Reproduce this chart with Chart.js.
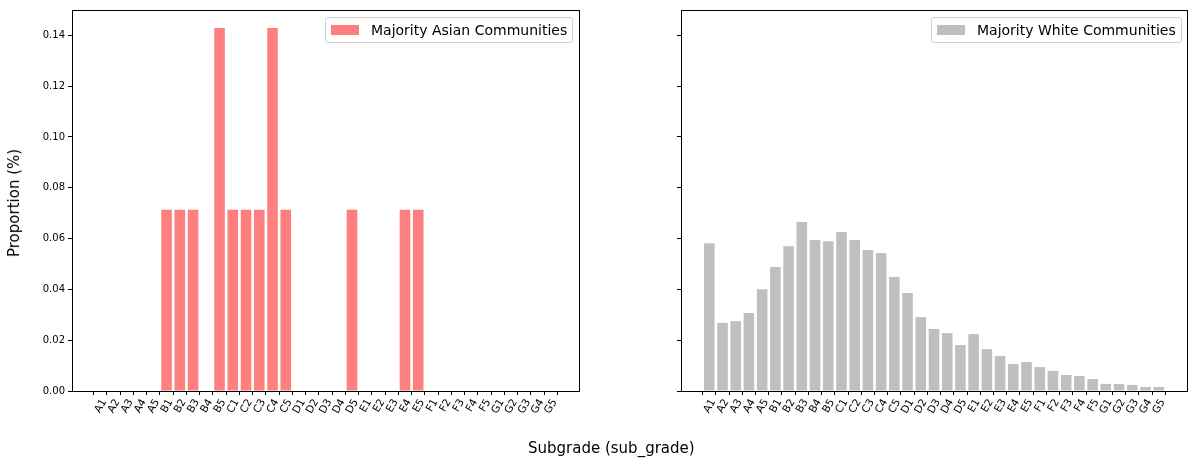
<!DOCTYPE html>
<html>
<head>
<meta charset="utf-8">
<script src="https://cdn.jsdelivr.net/npm/chart.js@4.4.0/dist/chart.umd.min.js"></script>
<style>
  body { margin: 0; background: #fff; font-family: 'DejaVu Sans', sans-serif; }
  #wrap { position: relative; width: 1198px; height: 465px; }
  canvas { position: absolute; top: 0; }
  .legend { position: absolute; top: 17px; height: 24px; border: 1px solid #d0d0d0; border-radius: 3px;
            background: rgba(255,255,255,0.8); display: flex; align-items: center; font-size: 14px; color: #000;
            white-space: nowrap; box-sizing: content-box; }
  .legend .patch { width: 28px; height: 10px; margin: 0 12px 0 5px; flex: none; }
  .lbl { position: absolute; font-size: 15px; color: #000; white-space: nowrap; }
</style>
</head>
<body>
<div id="wrap">
  <canvas id="left" width="600" height="465" style="left:0"></canvas>
  <canvas id="right" width="598" height="465" style="left:600px"></canvas>
  <div class="legend" style="left:325px;width:246px"><div class="patch" style="background:rgba(255,0,0,0.5)"></div>Majority Asian Communities</div>
  <div class="legend" style="left:931px;width:249px"><div class="patch" style="background:rgba(128,128,128,0.5)"></div>Majority White Communities</div>
  <div class="lbl" style="left:14px;top:203px;transform:translate(-50%,-50%) rotate(-90deg)">Proportion (%)</div>
  <div class="lbl" style="left:528px;top:439px">Subgrade (sub_grade)</div>
</div>
<script>
var subgrades = ['A1','A2','A3','A4','A5','B1','B2','B3','B4','B5','C1','C2','C3','C4','C5',
                 'D1','D2','D3','D4','D5','E1','E2','E3','E4','E5','F1','F2','F3','F4','F5',
                 'G1','G2','G3','G4','G5'];
var asianValues = [0, 0, 0, 0, 0, 0.0714, 0.0714, 0.0714, 0, 0.1429, 0.0714, 0.0714, 0.0714, 0.1429, 0.0714,
                   0, 0, 0, 0, 0.0714, 0, 0, 0, 0.0714, 0.0714, 0, 0, 0, 0, 0,
                   0, 0, 0, 0, 0];
var whiteValues = [0.0582, 0.0268, 0.0275, 0.0307, 0.0401, 0.0488, 0.0570, 0.0665, 0.0594, 0.0590,
                   0.0626, 0.0594, 0.0555, 0.0543, 0.0449, 0.0386, 0.0291, 0.0244, 0.0228, 0.0181,
                   0.0224, 0.0165, 0.0138, 0.0106, 0.0114, 0.0094, 0.0079, 0.0063, 0.0059, 0.0047,
                   0.0028, 0.0028, 0.0024, 0.0016, 0.0016];
var yTicks = [0, 0.02, 0.04, 0.06, 0.08, 0.10, 0.12, 0.14];

Chart.defaults.font.family = 'DejaVu Sans';
Chart.defaults.font.size = 10;
Chart.defaults.color = '#000';

// matplotlib style box round the plot area
var frame = {
  id: 'frame',
  afterDraw: function(chart) {
    var a = chart.chartArea, c = chart.ctx;
    c.save();
    c.strokeStyle = '#000';
    c.lineWidth = 1;
    c.strokeRect(Math.round(a.left) + 0.5, Math.round(a.top) + 0.5, Math.round(a.right - a.left), Math.round(a.bottom - a.top));
    c.restore();
  }
};

function makeChart(id, values, color, yWidth, padRight, showY) {
  return new Chart(document.getElementById(id), {
    type: 'bar',
    data: {
      datasets: [{
        data: values.map(function(v, i) { return {x: i, y: v}; }),
        backgroundColor: color,
        barPercentage: 0.8,
        categoryPercentage: 1.0
      }]
    },
    options: {
      responsive: false,
      animation: false,
      devicePixelRatio: 1,
      layout: { padding: { left: 0, top: 10, right: padRight, bottom: 0 } },
      plugins: { legend: { display: false }, tooltip: { enabled: false } },
      scales: {
        x: {
          type: 'linear',
          offset: false,
          min: -2.14,
          max: 36.14,
          afterBuildTicks: function(axis) { axis.ticks = subgrades.map(function(_, i) { return {value: i}; }); },
          afterFit: function(axis) { axis.height = 74; },
          ticks: {
            autoSkip: false,
            minRotation: 60,
            maxRotation: 60,
            labelOffset: 4,
            padding: 2,
            font: { size: 10.5 },
            callback: function(v) { return subgrades[v]; }
          },
          grid: { drawOnChartArea: false, tickLength: 4, color: '#000' },
          border: { color: '#000' }
        },
        y: {
          min: 0,
          max: 0.15,
          afterBuildTicks: function(axis) { axis.ticks = yTicks.map(function(v) { return {value: v}; }); },
          afterFit: function(axis) { axis.width = yWidth; },
          ticks: {
            display: showY,
            padding: 3,
            callback: function(v) { return v.toFixed(2); }
          },
          grid: { drawOnChartArea: false, tickLength: 4, color: '#000' },
          border: { color: '#000' }
        }
      }
    },
    plugins: [frame]
  });
}

makeChart('left', asianValues, 'rgba(255,0,0,0.5)', 72, 21, true);
makeChart('right', whiteValues, 'rgba(128,128,128,0.5)', 81, 11, false);
</script>
</body>
</html>
